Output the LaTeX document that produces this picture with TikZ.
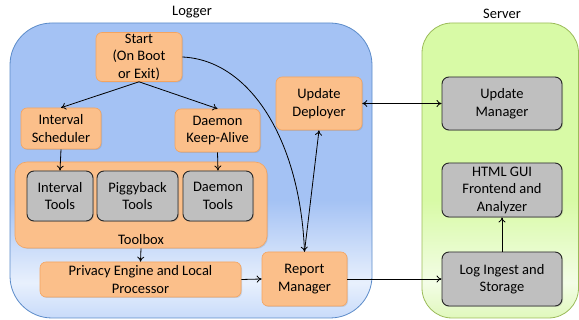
\documentclass[tikz,border=0pt]{standalone}
\usepackage{fontspec}
\setmainfont{Carlito}
\usetikzlibrary{arrows.meta,shadows}
\definecolor{lblue}{HTML}{A4C2F4}
\definecolor{lbluew}{HTML}{E8F0FD}
\definecolor{lblueb}{HTML}{C8DBFA}
\definecolor{lbord}{HTML}{5B8BC9}
\definecolor{sgreen}{HTML}{D8FAA6}
\definecolor{sgreenw}{HTML}{F3FDE6}
\definecolor{sgreenb}{HTML}{E0F8BC}
\definecolor{sbord}{HTML}{9BBB59}
\definecolor{ofill}{HTML}{FBBF8A}
\definecolor{obord}{HTML}{F4A460}
\definecolor{gfill}{HTML}{BFBFBF}
\pgfdeclareverticalshading{loggershade}{100bp}{color(0bp)=(lblueb); color(25bp)=(lblueb); color(31bp)=(lbluew); color(45bp)=(lblue); color(100bp)=(lblue)}
\pgfdeclareverticalshading{servershade}{100bp}{color(0bp)=(sgreenb); color(25bp)=(sgreenb); color(31bp)=(sgreenw); color(45bp)=(sgreen); color(100bp)=(sgreen)}
\tikzset{
  obox/.style={draw=obord, fill=ofill, rounded corners=6pt, line width=0.6pt, align=center, inner sep=1pt,
    drop shadow={shadow xshift=1pt, shadow yshift=-1pt, opacity=0.25}},
  gbox/.style={draw=black!85, fill=gfill, rounded corners=7pt, line width=0.9pt, align=center, inner sep=1pt,
    drop shadow={shadow xshift=1pt, shadow yshift=-1pt, opacity=0.3}},
  conn/.style={-{To[length=5pt,width=7pt]}, line width=0.8pt, black},
  biconn/.style={{To[length=5pt,width=7pt]}-{To[length=5pt,width=7pt]}, line width=0.8pt, black},
  lab/.style={font=\fontsize{14.5}{17}\selectfont},
}
\begin{document}
\begin{tikzpicture}[x=1pt,y=-1pt,font=\fontsize{14.5}{17.5}\selectfont]
\useasboundingbox (0,0) rectangle (579,320);
% containers
\shade[shading=loggershade, draw=lbord, line width=0.8pt, rounded corners=42pt] (10,23) rectangle (372,318);
\shade[shading=servershade, draw=sbord, line width=0.8pt, rounded corners=30pt] (422,23) rectangle (578.5,318);
\node[lab] (loggerlab) at (192,12) {Logger};
\node[lab] (serverlab) at (502,14) {Server};
% nodes
\node[obox, minimum width=86pt, minimum height=49pt] (start) at (139,57) {Start\\(On Boot\\or Exit)};
\node[obox, minimum width=80pt, minimum height=41pt] (isched) at (61,128.5) {Interval\\Scheduler};
\node[obox, minimum width=85pt, minimum height=43pt] (keep) at (217.5,130.5) {Daemon\\Keep-Alive};
\node[obox, minimum width=252pt, minimum height=86pt, rounded corners=12pt] (toolbox) at (141,205) {};
\node[lab] (toolboxlab) at (141,240) {Toolbox};
\node[gbox, minimum width=66pt, minimum height=50pt] (itools) at (60,196) {Interval\\Tools};
\node[gbox, minimum width=81pt, minimum height=50pt] (ptools) at (137.5,196) {Piggyback\\Tools};
\node[gbox, minimum width=70pt, minimum height=50pt] (dtools) at (218,196) {Daemon\\Tools};
\node[obox, minimum width=201pt, minimum height=35pt] (privacy) at (140.5,279.5) {Privacy Engine and Local\\Processor};
\node[obox, minimum width=85pt, minimum height=54pt] (report) at (304.5,279) {Report\\Manager};
\node[obox, minimum width=86pt, minimum height=53pt] (deploy) at (319,103.5) {Update\\Deployer};
\node[gbox, minimum width=120pt, minimum height=53pt] (umgr) at (502,103.5) {Update\\Manager};
\node[gbox, minimum width=120pt, minimum height=54pt] (html) at (502,190) {HTML GUI\\Frontend and\\Analyzer};
\node[gbox, minimum width=120pt, minimum height=54pt] (ingest) at (502,279) {Log Ingest and\\Storage};
% connectors
\draw[conn] (start.south) -- (isched.north);
\draw[conn] (start.south) -- (keep.north);
\draw[conn] (isched.south) -- (itools.north);
\draw[conn] (keep.south) -- (dtools.north);
\draw[conn] (toolbox.south) -- (privacy.north);
\draw[conn] (privacy.east) -- (report.west);
\draw[conn] (start.east) .. controls (250,60) and (300,140) .. (report.north);
\draw[conn] (report.north) -- (deploy.south);
\draw[biconn] (deploy.east) -- (umgr.west);
\draw[conn] (report.east) -- (ingest.west);
\draw[conn] (ingest.north) -- (html.south);
\end{tikzpicture}
\end{document}
